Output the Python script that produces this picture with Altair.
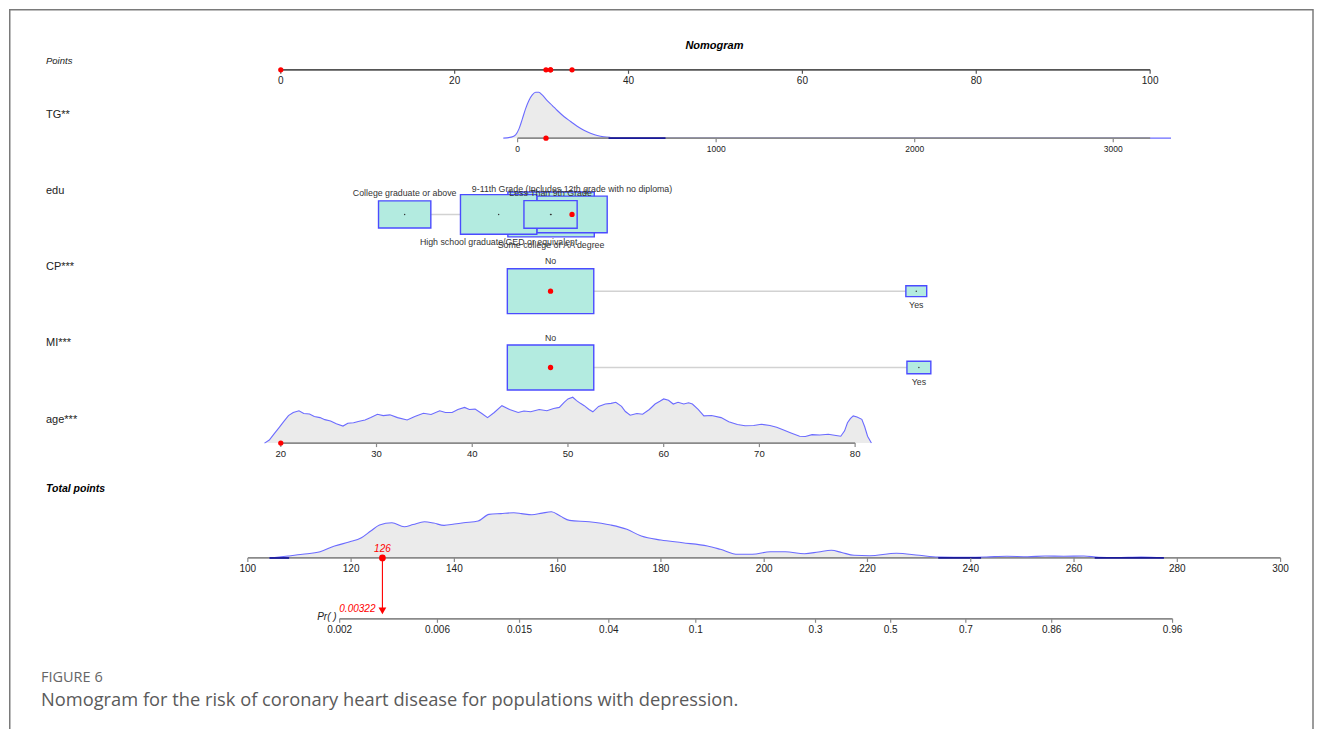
import math
import altair as alt
import numpy as np
import pandas as pd

# ----------------------------- data -----------------------------
POINT_TICKS = [0, 20, 40, 60, 80, 100]

# TG: axis, density (TG value, density height in arbitrary units)
TG_TICKS = [0, 1000, 2000, 3000]
TG_AXIS = [0, 3186]
TG_DENS_X = [-72, -32, -10, 7, 24, 40, 57, 74, 91, 107, 124, 149, 175, 200, 233, 267,
             300, 334, 367, 401, 434, 468, 533, 745, 1928, 3291]
TG_DENS_Y = [0, 1, 3.3, 9.3, 19.3, 29.3, 37.7, 43.3, 46, 46, 43.3, 37.7, 32.7, 27.7, 21.7, 16.7,
             12, 8, 5, 2.7, 1.3, 0.7, 0.3, 0.1, 0, 0]
TG_DARK = [458, 745]

# edu: categories (drawing order), nomogram points, relative frequency, label side
EDU_CATS = ["Some college or AA degree",
            "9-11th Grade (Includes 12th grade with no diploma)",
            "High school graduate/GED or equivalent",
            "Less Than 9th Grade",
            "College graduate or above"]
EDU_PTS = [31.09, 33.5, 25.06, 31.03, 14.25]
EDU_FREQ = [0.314, 0.208, 0.245, 0.119, 0.115]
EDU_SIDE = ["below", "above", "below", "above", "above"]

CP_CATS = ["No", "Yes"]
CP_PTS = [31.03, 73.1]
CP_FREQ = [0.945, 0.055]
CP_SIDE = ["above", "below"]

MI_CATS = ["No", "Yes"]
MI_PTS = [31.03, 73.4]
MI_FREQ = [0.929, 0.071]
MI_SIDE = ["above", "below"]

# age: axis and density
AGE_TICKS = [20, 30, 40, 50, 60, 70, 80]
AGE_AXIS = [20, 80]
AGE_DENS_X = [18.3, 18.8, 19.3, 19.8, 20.3, 20.8, 21.3, 21.9, 22.4, 23.0, 23.5, 24.1, 24.6, 25.2,
              25.8, 26.5, 27.0, 27.6, 28.2, 28.8, 29.4, 30.1, 30.7, 31.4, 32.2, 33.2, 34.0, 34.9,
              35.7, 36.6, 37.2, 37.9, 38.5, 39.2, 39.7, 40.3, 41.0, 41.6, 42.3, 43.1, 43.9, 44.8,
              45.4, 46.1, 47.0, 47.8, 48.5, 49.1, 49.6, 50.0, 50.5, 50.9, 51.3, 51.7, 52.2, 52.6,
              53.2, 53.9, 54.5, 55.0, 55.6, 56.0, 56.5, 57.2, 57.8, 58.5, 59.1, 59.6, 60.0, 60.5,
              61.0, 61.5, 62.1, 62.6, 63.0, 63.6, 64.2, 65.0, 66.0, 66.8, 67.7, 68.5, 69.4, 70.2,
              71.1, 71.8, 72.4, 73.3, 74.2, 74.8, 75.5, 76.3, 77.2, 78.0, 78.5, 78.9, 79.2, 79.5,
              79.8, 80.2, 80.7, 81.0, 81.3, 81.7]
AGE_DENS_Y = [0, 3, 9, 15, 21, 27, 30, 31.7, 29, 28.5, 26, 25, 23, 21.7,
              19, 16.7, 19.5, 20, 21.5, 22.7, 25, 28.3, 27, 27.7, 25, 22.7, 26, 29.3,
              28, 31.7, 30, 30, 33, 35, 33, 33.3, 29, 25, 30, 36.7, 33, 30,
              31.5, 30.7, 33, 31.7, 34, 35, 40, 43.3, 45, 41.7, 39, 36.7, 33, 30.7,
              36, 38.3, 39, 40, 36, 31, 27.3, 29, 28.3, 33, 38.3, 41, 43.3, 42,
              38.3, 40, 38.3, 39.5, 38.3, 33, 26.7, 27, 25, 21, 18.3, 17, 17.3, 18.5,
              17.3, 15.5, 13.3, 10, 6.7, 6.5, 8.3, 8.0, 8.7, 7.5, 6.7, 12, 20, 24,
              26.7, 25.5, 23.3, 16, 6.7, 0]

# total points: axis and density
TOTAL_TICKS = [100, 120, 140, 160, 180, 200, 220, 240, 260, 280, 300]
TOTAL_DENS_X = [104.2, 107.8, 110.6, 114, 116.8, 119.6, 122, 123.8, 125.5, 127.9, 130.3, 132,
                134.2, 136, 138, 140, 141.8, 144.6, 146.7, 149, 151.5, 153, 155, 157, 158.8,
                160.5, 162.3, 166.1, 170.3, 173.4, 176.2, 180, 184.2, 189, 191.5, 194.9, 197.7,
                201.2, 204.1, 207.8, 210.5, 213, 215, 217.4, 220.4, 225.6, 230, 233.7, 239.6,
                243, 247, 251, 254.4, 258, 261.9, 264.8, 268, 273, 277.4]
TOTAL_DENS_Y = [0, 2, 3.7, 6.3, 12, 16, 20.3, 27, 33, 35.3, 31.3, 33.5,
                36.3, 35, 32.7, 34, 35.3, 37, 43.7, 44.5, 45.3, 44.5, 43.3, 45, 46.3,
                42, 37.7, 36.3, 33, 28.7, 22, 18, 15.3, 12, 8.7, 3.7, 3.7,
                6.3, 6.2, 4.3, 6, 7.7, 5.5, 2.7, 2.3, 4.7, 2.7, 1, 0.7,
                1, 1.7, 1.3, 2, 1.7, 2, 0.7, 0.5, 1, 0]
TOTAL_DARK = [[104.2, 108.0], [233.7, 242.0], [264.0, 277.4]]

# probability axis
PR_TICKS = [0.002, 0.006, 0.015, 0.04, 0.1, 0.3, 0.5, 0.7, 0.86, 0.96]
PR_LABELS = ["0.002", "0.006", "0.015", "0.04", "0.1", "0.3", "0.5", "0.7", "0.86", "0.96"]
PR_B0 = -13.07     # logit(Pr) = B0 + B1 * total points
PR_B1 = 0.05822

# the highlighted observation
OBS_TG = 143
OBS_EDU = "9-11th Grade (Includes 12th grade with no diploma)"
OBS_CP = "No"
OBS_MI = "No"
OBS_AGE = 20
OBS_TOTAL_LABEL = "126"
OBS_PR_LABEL = "0.00322"

# ----------------------------- scales: variable -> points -----------------------------
PX_PER_PT = 8.7          # pixels per point on the Points scale
PT0_PX = 280             # page x of 0 points


def tg_pts(v):
    return 27.24 + np.asarray(v, dtype=float) * 0.022839


def age_pts(v):
    return (np.asarray(v, dtype=float) - 20) * 1.1011


def total_pts(v):
    return -3.793 + (np.asarray(v, dtype=float) - 100) * 0.594


def pr_total(p):
    p = np.asarray(p, dtype=float)
    return (np.log(p / (1 - p)) - PR_B0) / PR_B1


def lx(page_x):  # layout helper: page pixel x -> points units
    return (page_x - PT0_PX) / PX_PER_PT


W, H = 1312, 721
XS = alt.Scale(domain=[lx(8), lx(8 + W)], nice=False, zero=False)
YS = alt.Scale(domain=[8, 8 + H], reverse=True, nice=False, zero=False)


def X(f):
    return alt.X(f, type="quantitative", scale=XS, axis=None)


def Y(f):
    return alt.Y(f, type="quantitative", scale=YS, axis=None)


FONT = "Liberation Sans"
AXIS_GREY = "#8a8a8a"
DENS_FILL = "#ebebeb"
DENS_LINE = "#6b6bff"
NAVY = "#1a1a9a"
BOX_FILL = "#b3ebe0"
BOX_LINE = "#4b4bff"
RED = "#ff0000"
TXT = "#222222"

layers = []


def text(df, **kw):
    base = dict(font=FONT, color=TXT, baseline="middle")
    base.update(kw)
    return alt.Chart(df).mark_text(**base).encode(x=X("x"), y=Y("y"), text="t:N")


def hline(x0, x1, y, color, width=1.6):
    df = pd.DataFrame({"x": [x0], "x2": [x1], "y": [y]})
    return alt.Chart(df).mark_rule(color=color, strokeWidth=width).encode(
        x=X("x"), x2=alt.X2("x2"), y=Y("y"))


def ticks(xs, y, length=4, color=AXIS_GREY):
    df = pd.DataFrame({"x": list(xs), "y": y, "y2": y + length})
    return alt.Chart(df).mark_rule(color=color, strokeWidth=1.2).encode(
        x=X("x"), y=Y("y"), y2=alt.Y2("y2"))


def density(xs_pts, vals, base_y, height, interp="linear"):
    v = np.asarray(vals, dtype=float)
    df = pd.DataFrame({"x": xs_pts, "y": base_y - v / v.max() * height, "y2": base_y})
    area = alt.Chart(df).mark_area(color=DENS_FILL, opacity=1, interpolate=interp).encode(
        x=X("x"), y=Y("y"), y2=alt.Y2("y2"))
    line = alt.Chart(df).mark_line(color=DENS_LINE, strokeWidth=1.1, interpolate=interp).encode(
        x=X("x"), y=Y("y"), order="x:Q")
    return area, line


def dots(xs, ys, color=RED, size=28):
    df = pd.DataFrame({"x": list(xs), "y": list(ys)})
    return alt.Chart(df).mark_circle(color=color, size=size, opacity=1).encode(x=X("x"), y=Y("y"))


# ----------------------------- frame -----------------------------
layers.append(alt.Chart().mark_rule(color="#7a7a7a", strokeWidth=1.5).encode(
    x=alt.value(0.75), y=alt.value(0), y2=alt.value(H)))
layers.append(alt.Chart().mark_rule(color="#7a7a7a", strokeWidth=1.5).encode(
    x=alt.value(0), x2=alt.value(1304), y=alt.value(0.75)))
layers.append(alt.Chart().mark_rule(color="#7a7a7a", strokeWidth=1.5).encode(
    x=alt.value(1304), y=alt.value(0), y2=alt.value(H)))

# ----------------------------- title & row labels -----------------------------
layers.append(text(pd.DataFrame({"x": [lx(714)], "y": [45], "t": ["Nomogram"]}),
                   align="center", fontSize=11, fontStyle="italic", fontWeight="bold", color="#000"))
layers.append(text(pd.DataFrame({"x": [lx(45)], "y": [60], "t": ["Points"]}),
                   align="left", fontSize=9.5, fontStyle="italic"))
layers.append(text(pd.DataFrame({"x": [lx(45)] * 5, "y": [114, 191, 267, 343, 420],
                                 "t": ["TG**", "edu", "CP***", "MI***", "age***"]}),
                   align="left", fontSize=11))
layers.append(text(pd.DataFrame({"x": [lx(45)], "y": [489], "t": ["Total points"]}),
                   align="left", fontSize=10.5, fontStyle="italic", fontWeight="bold", color="#000"))

# ----------------------------- Points axis -----------------------------
Y_PTS = 69
layers.append(hline(0, 100, Y_PTS, "#555555", 1.8))
layers.append(ticks(POINT_TICKS, Y_PTS, color="#555555"))
layers.append(text(pd.DataFrame({"x": POINT_TICKS, "y": Y_PTS + 11.5, "t": [str(t) for t in POINT_TICKS]}),
                   align="center", fontSize=10))

# observation's points
obs_edu_pts = EDU_PTS[EDU_CATS.index(OBS_EDU)]
obs_cp_pts = CP_PTS[CP_CATS.index(OBS_CP)]
obs_mi_pts = MI_PTS[MI_CATS.index(OBS_MI)]
obs_tg_pts = float(tg_pts(OBS_TG))
obs_age_pts = float(age_pts(OBS_AGE))
obs_total = obs_tg_pts + obs_edu_pts + obs_cp_pts + obs_mi_pts + obs_age_pts
layers.append(dots([obs_tg_pts, obs_edu_pts, obs_cp_pts, obs_mi_pts, obs_age_pts], [Y_PTS] * 5))

# ----------------------------- TG -----------------------------
Y_TG = 137.5
a, l = density(tg_pts(TG_DENS_X), TG_DENS_Y, Y_TG, 46, "monotone")
layers += [a, l]
layers.append(hline(float(tg_pts(TG_AXIS[0])), float(tg_pts(TG_AXIS[1])), Y_TG, AXIS_GREY, 1.8))
layers.append(hline(float(tg_pts(TG_DARK[0])), float(tg_pts(TG_DARK[1])), Y_TG, NAVY, 1.8))
layers.append(ticks(tg_pts(TG_TICKS), Y_TG))
layers.append(text(pd.DataFrame({"x": tg_pts(TG_TICKS), "y": Y_TG + 11, "t": [str(t) for t in TG_TICKS]}),
                   align="center", fontSize=8.5))
layers.append(dots([obs_tg_pts], [Y_TG]))

# ----------------------------- categorical rows -----------------------------
BOX_W_MAX = 86.5   # px of the most frequent category box
BOX_H_MAX = 45


def cat_row(cats, pts, freq, side, cy, obs):
    f = np.asarray(freq, dtype=float)
    scale = np.sqrt(f / f.max())
    w = BOX_W_MAX * scale / PX_PER_PT
    h = BOX_H_MAX * scale
    df = pd.DataFrame({"cat": cats, "x": pts, "x0": np.asarray(pts) - w / 2, "x1": np.asarray(pts) + w / 2,
                       "y0": cy - h / 2, "y1": cy + h / 2, "ord": range(len(cats))})
    out = [hline(min(pts), max(pts), cy, "#d2d2d2", 1.5)]
    for i in range(len(cats)):
        out.append(alt.Chart(df.iloc[[i]]).mark_rect(fill=BOX_FILL, stroke=BOX_LINE, strokeWidth=1.4).encode(
            x=X("x0"), x2=alt.X2("x1"), y=Y("y0"), y2=alt.Y2("y1")))
    out.append(dots(pts, [cy] * len(pts), color="#333333", size=2))
    ly = [(df.y0[i] - 7.5) if side[i] == "above" else (df.y1[i] + 8) for i in range(len(cats))]
    out.append(text(pd.DataFrame({"x": pts, "y": ly, "t": cats}), align="center", fontSize=8.8, color="#333"))
    out.append(dots([pts[cats.index(obs)]], [cy]))
    return out


layers += cat_row(EDU_CATS, EDU_PTS, EDU_FREQ, EDU_SIDE, 214, OBS_EDU)
layers += cat_row(CP_CATS, CP_PTS, CP_FREQ, CP_SIDE, 291, OBS_CP)
layers += cat_row(MI_CATS, MI_PTS, MI_FREQ, MI_SIDE, 367.5, OBS_MI)

# ----------------------------- age -----------------------------
Y_AGE = 443.3
a, l = density(age_pts(AGE_DENS_X), AGE_DENS_Y, Y_AGE, 46)
layers += [a, l]
layers.append(hline(float(age_pts(AGE_AXIS[0])), float(age_pts(AGE_AXIS[1])), Y_AGE, AXIS_GREY, 1.8))
layers.append(ticks(age_pts(AGE_TICKS), Y_AGE))
layers.append(text(pd.DataFrame({"x": age_pts(AGE_TICKS), "y": Y_AGE + 11, "t": [str(t) for t in AGE_TICKS]}),
                   align="center", fontSize=9.5))
layers.append(dots([obs_age_pts], [Y_AGE]))

# ----------------------------- total points -----------------------------
Y_TOT = 558.5
a, l = density(total_pts(TOTAL_DENS_X), TOTAL_DENS_Y, Y_TOT, 46.3, "monotone")
layers += [a]
layers.append(hline(float(total_pts(TOTAL_TICKS[0])), float(total_pts(TOTAL_TICKS[-1])), Y_TOT, AXIS_GREY, 1.8))
layers += [l]
for s, e in TOTAL_DARK:
    layers.append(hline(float(total_pts(s)), float(total_pts(e)), Y_TOT, NAVY, 1.8))
layers.append(ticks(total_pts(TOTAL_TICKS), Y_TOT))
layers.append(text(pd.DataFrame({"x": total_pts(TOTAL_TICKS), "y": Y_TOT + 11.5,
                                 "t": [str(t) for t in TOTAL_TICKS]}), align="center", fontSize=10))

# ----------------------------- probability axis -----------------------------
Y_PR = 619.5
pr_x = total_pts(pr_total(PR_TICKS))
layers.append(hline(float(pr_x[0]), float(pr_x[-1]), Y_PR, AXIS_GREY, 1.8))
layers.append(ticks(pr_x, Y_PR))
layers.append(text(pd.DataFrame({"x": pr_x, "y": Y_PR + 11.5, "t": PR_LABELS}), align="center", fontSize=10))
layers.append(text(pd.DataFrame({"x": [float(pr_x[0]) - 0.35], "y": [Y_PR - 1.5], "t": ["Pr( )"]}),
                   align="right", fontSize=10, fontStyle="italic"))

# ----------------------------- prediction arrow -----------------------------
ox = float(total_pts(obs_total))
arrow = pd.DataFrame({"x": [ox], "y": [Y_TOT], "y2": [Y_PR - 8]})
layers.append(alt.Chart(arrow).mark_rule(color=RED, strokeWidth=1.1).encode(x=X("x"), y=Y("y"), y2=alt.Y2("y2")))
layers.append(alt.Chart(pd.DataFrame({"x": [ox], "y": [Y_PR - 8]})).mark_point(
    shape="triangle-down", filled=True, color=RED, size=60, opacity=1).encode(x=X("x"), y=Y("y")))
layers.append(dots([ox], [Y_TOT], size=45))
layers.append(text(pd.DataFrame({"x": [ox], "y": [Y_TOT - 8.5], "t": [OBS_TOTAL_LABEL]}),
                   align="center", fontSize=10, fontStyle="italic", color=RED))
layers.append(text(pd.DataFrame({"x": [ox - 0.8], "y": [Y_PR - 9.5], "t": [OBS_PR_LABEL]}),
                   align="right", fontSize=10, fontStyle="italic", color=RED))

# ----------------------------- caption -----------------------------
layers.append(text(pd.DataFrame({"x": [lx(40)], "y": [679], "t": ["FIGURE 6"]}),
                   align="left", font="Open Sans", fontSize=14.5, color="#666666"))
layers.append(text(pd.DataFrame({"x": [lx(40)], "y": [702],
                                 "t": ["Nomogram for the risk of coronary heart disease for populations with depression."]}),
                   align="left", font="Open Sans", fontSize=18.3, color="#5a5a5a"))

chart = alt.layer(*layers).properties(
    width=W, height=H, padding=0,
    autosize=alt.AutoSizeParams(type="fit", contains="padding"),
    background="white",
).configure_view(strokeWidth=0)

chart.save("out.html", embed_options={"renderer": "svg", "actions": False})
